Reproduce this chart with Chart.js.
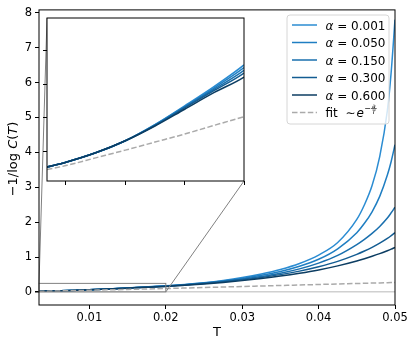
<!DOCTYPE html>
<html lang="en">
<head>
<meta charset="UTF-8">
<title>-1/log C(T)</title>
<script src="https://cdn.jsdelivr.net/npm/chart.js"></script>
<style>
  body { margin: 0; background: #fff; }
  #wrap { position: relative; width: 416px; height: 348px; }
  #main { position: absolute; left: 0; top: 0; }
  #inset { position: absolute; left: 42px; top: 16px; }
</style>
</head>
<body>
<div id="wrap">
  <canvas id="main" width="416" height="348"></canvas>
  <canvas id="inset" width="204" height="170"></canvas>
</div>
<script>
Chart.defaults.font.family = "'DejaVu Sans', sans-serif";
Chart.defaults.color = '#000';

// temperatures (x) and curves
const temps = [0.0034, 0.005, 0.0075, 0.01, 0.0125, 0.015, 0.0175, 0.02, 0.0225, 0.025, 0.0275, 0.03,
               0.0325, 0.035, 0.0375, 0.04, 0.0425, 0.045, 0.046, 0.047, 0.048, 0.049, 0.0495, 0.05];
const alphas = ['0.001', '0.050', '0.150', '0.300', '0.600'];
const curveA001 = [0.027, 0.034, 0.048, 0.066, 0.090, 0.118, 0.147, 0.179, 0.218, 0.268, 0.333, 0.415,
                   0.518, 0.648, 0.82, 1.06, 1.42, 2.08, 2.5, 3.05, 3.88, 5.2, 6.3, 7.8];
const curveA050 = [0.027, 0.034, 0.048, 0.066, 0.090, 0.117, 0.145, 0.175, 0.213, 0.260, 0.318, 0.39,
                   0.48, 0.59, 0.74, 0.94, 1.24, 1.70, 1.97, 2.30, 2.74, 3.35, 3.74, 4.22];
const curveA150 = [0.027, 0.034, 0.048, 0.066, 0.089, 0.116, 0.143, 0.171, 0.208, 0.252, 0.305, 0.368,
                   0.445, 0.54, 0.665, 0.83, 1.05, 1.36, 1.51, 1.68, 1.88, 2.12, 2.27, 2.43];
const curveA300 = [0.027, 0.034, 0.048, 0.066, 0.089, 0.115, 0.141, 0.167, 0.203, 0.245, 0.294, 0.352,
                   0.42, 0.50, 0.60, 0.725, 0.88, 1.08, 1.175, 1.28, 1.40, 1.535, 1.615, 1.70];
const curveA600 = [0.027, 0.034, 0.048, 0.066, 0.088, 0.113, 0.138, 0.161, 0.195, 0.233, 0.277, 0.328,
                   0.388, 0.458, 0.54, 0.635, 0.75, 0.89, 0.955, 1.025, 1.10, 1.185, 1.23, 1.28];
const fitCurve  = [0.023, 0.029, 0.0405, 0.052, 0.064, 0.076, 0.089, 0.102, 0.116, 0.131, 0.145, 0.160,
                   0.174, 0.189, 0.203, 0.217, 0.232, 0.246, 0.252, 0.258, 0.263, 0.269, 0.272, 0.275];
const xTicksMain = [0.01, 0.02, 0.03, 0.04, 0.05];

const curves = [curveA001, curveA050, curveA150, curveA300, curveA600];
const lineColors = ['#2b8cd2', '#1f7ec2', '#196fae', '#135c92', '#0c3d62'];
const zoomBox = { xMin: 0.0034, xMax: 0.02, yMin: 0.006, yMax: 0.249 };

function buildDatasets() {
  const ds = curves.map((vals, i) => ({
    label: 'α = ' + alphas[i],
    data: temps.map((t, j) => ({ x: t, y: vals[j] })),
    borderColor: lineColors[i],
    borderWidth: 1.5,
    pointRadius: 0,
    cubicInterpolationMode: 'monotone',
    order: curves.length - i
  }));
  ds.push({
    label: 'fit',
    data: temps.map((t, j) => ({ x: t, y: fitCurve[j] })),
    borderColor: '#aaaaaa',
    borderWidth: 1.5,
    borderDash: [5.5, 2.4],
    pointRadius: 0,
    cubicInterpolationMode: 'monotone',
    order: 0
  });
  return ds;
}

const framePlugin = {
  id: 'frame',
  beforeDraw(chart, args, opts) {
    if (!opts.fill) return;
    const a = chart.chartArea;
    chart.ctx.save();
    chart.ctx.fillStyle = '#fff';
    chart.ctx.fillRect(a.left, a.top, a.right - a.left, a.bottom - a.top);
    chart.ctx.restore();
  },
  afterDraw(chart) {
    const a = chart.chartArea, ctx = chart.ctx;
    ctx.save();
    ctx.strokeStyle = '#000';
    ctx.lineWidth = 1;
    ctx.strokeRect(a.left, a.top, a.right - a.left, a.bottom - a.top);
    ctx.restore();
  }
};

// inset
const inset = new Chart(document.getElementById('inset'), {
  type: 'line',
  data: { datasets: buildDatasets() },
  options: {
    responsive: false,
    animation: false,
    layout: { padding: { top: 2, right: 2, left: 0, bottom: 0 } },
    plugins: { legend: { display: false }, tooltip: { enabled: false }, frame: { fill: true } },
    scales: {
      x: {
        type: 'linear', min: zoomBox.xMin, max: zoomBox.xMax,
        ticks: { display: false, stepSize: 0.005, includeBounds: false },
        grid: { drawOnChartArea: false, tickLength: 4, tickColor: '#000' },
        border: { display: false },
        afterFit: s => { s.height = 5; }
      },
      y: {
        min: zoomBox.yMin, max: zoomBox.yMax,
        ticks: { display: false, stepSize: 0.05, includeBounds: false },
        grid: { drawOnChartArea: false, tickLength: 4, tickColor: '#000' },
        border: { display: false },
        afterFit: s => { s.width = 5; }
      }
    }
  },
  plugins: [framePlugin]
});

const zoomMarks = {
  id: 'zoomMarks',
  afterDatasetsDraw(chart) {
    const ctx = chart.ctx, xs = chart.scales.x, ys = chart.scales.y;
    const x1 = xs.getPixelForValue(zoomBox.xMin), x2 = xs.getPixelForValue(zoomBox.xMax);
    const y1 = ys.getPixelForValue(zoomBox.yMax), y2 = ys.getPixelForValue(zoomBox.yMin);
    const cv = inset.canvas, ia = inset.chartArea;
    const ix1 = cv.offsetLeft + ia.left, iy1 = cv.offsetTop + ia.top;
    const ix2 = cv.offsetLeft + ia.right, iy2 = cv.offsetTop + ia.bottom;
    ctx.save();
    ctx.strokeStyle = '#808080';
    ctx.lineWidth = 1;
    ctx.strokeRect(x1, y1, x2 - x1, y2 - y1);
    ctx.beginPath();
    ctx.moveTo(x1, y1); ctx.lineTo(ix1, iy1);
    ctx.moveTo(x2, y2); ctx.lineTo(ix2, iy2);
    ctx.stroke();
    ctx.restore();
  }
};

function piece(ctx, txt, font, x, y) {
  ctx.font = font;
  ctx.fillText(txt, x, y);
  return x + ctx.measureText(txt).width;
}

const labelsPlugin = {
  id: 'labels',
  afterDraw(chart) {
    const ctx = chart.ctx;
    const fam = "'DejaVu Sans', sans-serif";
    // y title with italic C and T
    ctx.save();
    ctx.fillStyle = '#000';
    ctx.textBaseline = 'middle';
    ctx.translate(14, 159);
    ctx.rotate(-Math.PI / 2);
    const parts = [['−1/log ', ''], ['C', 'italic '], ['(', ''], ['T', 'italic '], [')', '']];
    let total = 0;
    parts.forEach(p => { ctx.font = p[1] + '13px ' + fam; total += ctx.measureText(p[0]).width; });
    let x = -total / 2;
    parts.forEach(p => { x = piece(ctx, p[0], p[1] + '13px ' + fam, x, 0); });
    ctx.restore();

    // legend
    ctx.save();
    ctx.beginPath();
    ctx.roundRect(287, 15, 102, 109, 3);
    ctx.fillStyle = 'rgba(255,255,255,0.8)';
    ctx.fill();
    ctx.strokeStyle = '#d6d6d6';
    ctx.lineWidth = 1;
    ctx.stroke();
    chart.data.datasets.forEach((d, i) => {
      const y = 25 + i * 17.5;
      ctx.beginPath();
      ctx.setLineDash(d.borderDash || []);
      ctx.strokeStyle = d.borderColor;
      ctx.lineWidth = 1.5;
      ctx.moveTo(292, y); ctx.lineTo(317, y);
      ctx.stroke();
      ctx.setLineDash([]);
      ctx.fillStyle = '#000';
      ctx.textBaseline = 'alphabetic';
      const base = y + 4.5;
      if (i < alphas.length) {
        let tx = piece(ctx, 'α', 'italic 12px ' + fam, 325.5, base);
        piece(ctx, ' = ' + alphas[i], '12px ' + fam, tx, base);
      } else {
        let tx = piece(ctx, 'fit ', '12px ' + fam, 325.5, base);
        tx = piece(ctx, ' ∼', '12px ' + fam, tx, base);
        tx = piece(ctx, 'e', 'italic 12px ' + fam, tx + 1, base);
        tx = piece(ctx, '−', '8px ' + fam, tx + 0.5, base - 6);
        ctx.font = 'italic 6px ' + fam;
        const fw = ctx.measureText('T').width + 1;
        ctx.textAlign = 'center';
        ctx.fillText('a', tx + fw / 2 + 0.5, base - 9.5);
        ctx.fillText('T', tx + fw / 2 + 0.5, base - 3.5);
        ctx.fillRect(tx, base - 8.6, fw + 1, 0.6);
        ctx.textAlign = 'left';
      }
    });
    ctx.restore();
  }
};

new Chart(document.getElementById('main'), {
  type: 'line',
  data: { datasets: buildDatasets() },
  options: {
    responsive: false,
    animation: false,
    layout: { padding: { top: 9, right: 21, left: 0, bottom: 0 } },
    plugins: { legend: { display: false }, tooltip: { enabled: false }, frame: { fill: false } },
    scales: {
      x: {
        type: 'linear', min: 0.0034, max: 0.05,
        afterBuildTicks: s => { s.ticks = xTicksMain.map(v => ({ value: v })); },
        ticks: { font: { size: 11.5 }, padding: 2, maxRotation: 0, autoSkip: false,
                 callback: v => v.toFixed(2) },
        grid: { drawOnChartArea: false, tickLength: 4, tickColor: '#000' },
        border: { display: false },
        title: { display: true, text: 'T', font: { size: 13 }, padding: { top: 0, bottom: 7.5 } },
        afterFit: s => { s.height = 43; }
      },
      y: {
        min: -0.37, max: 8.08,
        ticks: { stepSize: 1, includeBounds: false, font: { size: 11.5 }, padding: 3 },
        grid: {
          color: c => (c.tick && c.tick.value === 0) ? '#d0d0d0' : 'rgba(0,0,0,0)',
          lineWidth: c => (c.tick && c.tick.value === 0) ? 1.5 : 1,
          tickLength: 4, tickColor: '#000'
        },
        border: { display: false },
        afterFit: s => { s.width = 39; }
      }
    }
  },
  plugins: [framePlugin, zoomMarks, labelsPlugin]
});
</script>
</body>
</html>
